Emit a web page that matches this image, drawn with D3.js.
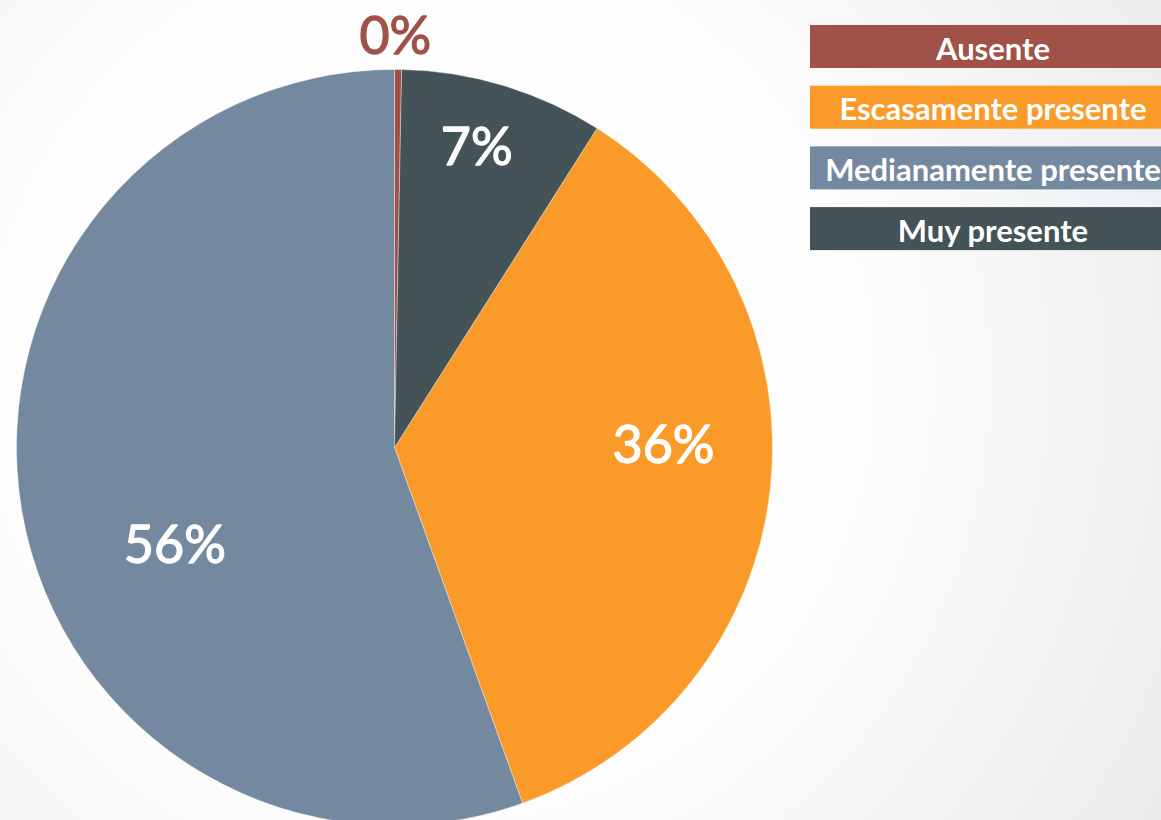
<!DOCTYPE html>
<html>
<head>
<meta charset="utf-8">
<script src="https://cdn.jsdelivr.net/npm/d3@7"></script>
<style>
  html, body { margin: 0; padding: 0; overflow: hidden; }
  svg { display: block; font-family: Lato, 'Open Sans', sans-serif; }
</style>
</head>
<body>
<div id="chart"></div>
<script>
// categories in legend order
const categories = ['Ausente', 'Escasamente presente', 'Medianamente presente', 'Muy presente'];
// share of each slice (%)
const values = [0.3, 35.5, 55.5, 8.7];
// data labels as printed on the chart
const labels = ['0%', '36%', '56%', '7%'];
const colors = ['#a05248', '#f99a29', '#74899f', '#435358'];
// clockwise order of the slices starting at 12 o'clock
const drawOrder = ['Ausente', 'Muy presente', 'Escasamente presente', 'Medianamente presente'];

const width = 1161,
  height = 820;
const center = { x: 394.5, y: 447.5 },
  radius = 378;

const data = categories.map((name, i) => ({
  name, value: values[i], label: labels[i], color: colors[i],
}));

const svg = d3.select('#chart')
  .append('svg')
  .attr('width', width)
  .attr('height', height);

// soft radial background
const grad = svg.append('defs')
  .append('radialGradient')
  .attr('id', 'bg')
  .attr('gradientUnits', 'userSpaceOnUse')
  .attr('cx', 430).attr('cy', 380).attr('r', 900);
grad.append('stop').attr('offset', '0%').attr('stop-color', '#ffffff');
grad.append('stop').attr('offset', '48%').attr('stop-color', '#fdfdfd');
grad.append('stop').attr('offset', '75%').attr('stop-color', '#f2f3f4');
grad.append('stop').attr('offset', '100%').attr('stop-color', '#e8e9eb');

svg.append('rect')
  .attr('width', width)
  .attr('height', height)
  .attr('fill', 'url(#bg)');

const pie = d3.pie()
  .value((d) => d.value)
  .sort((a, b) => drawOrder.indexOf(a.name) - drawOrder.indexOf(b.name));

const arc = d3.arc().innerRadius(0).outerRadius(radius);
const labelArc = d3.arc().innerRadius(radius * 0.7).outerRadius(radius * 0.7);
const outerArc = d3.arc().innerRadius(radius * 1.09).outerRadius(radius * 1.09);

const arcs = pie(data);

const g = svg.append('g')
  .attr('transform', `translate(${center.x},${center.y})`);

g.selectAll('path.slice')
  .data(arcs)
  .enter()
  .append('path')
  .attr('class', 'slice')
  .attr('d', arc)
  .attr('fill', (d) => d.data.color)
  .attr('stroke', '#ffffff')
  .attr('stroke-opacity', 0.6)
  .attr('stroke-width', 0.6);

// best-fit nudges, the way the office chart placed its labels
const labelShift = {
  'Muy presente': [6, -47],
  'Escasamente presente': [6, -32],
  'Medianamente presente': [41, 52],
  Ausente: [-3, 0],
};

// semibold look: regular weight with a thin stroke of the same colour
const labelColor = (d) => (d.data.value < 1 ? d.data.color : '#ffffff');

g.selectAll('text.value')
  .data(arcs)
  .enter()
  .append('text')
  .attr('class', 'value')
  .attr('transform', (d) => {
    const small = d.data.value < 1;
    const [cx, cy] = (small ? outerArc : labelArc).centroid(d);
    const [dx, dy] = labelShift[d.data.name];
    return `translate(${cx + dx},${cy + dy})`;
  })
  .attr('dy', '0.35em')
  .attr('text-anchor', 'middle')
  .attr('font-size', 52)
  .attr('font-weight', 400)
  .attr('fill', labelColor)
  .attr('stroke', labelColor)
  .attr('stroke-width', 1.3)
  .attr('stroke-linejoin', 'round')
  .text((d) => d.data.label);

// legend: coloured bars with centred white text
const legendX = 810,
  legendW = 366,
  legendH = 43,
  legendTop = 25,
  legendStep = 60.7;

const legend = svg.append('g')
  .attr('class', 'legend')
  .selectAll('g')
  .data(data)
  .enter()
  .append('g')
  .attr('transform', (d, i) => `translate(${legendX},${legendTop + i * legendStep})`);

legend.append('rect')
  .attr('width', legendW)
  .attr('height', legendH)
  .attr('fill', (d) => d.color);

legend.append('text')
  .attr('x', legendW / 2)
  .attr('y', 34.5)
  .attr('text-anchor', 'middle')
  .attr('font-size', 31)
  .attr('font-weight', 700)
  .attr('fill', '#ffffff')
  .text((d) => d.name);
</script>
</body>
</html>
